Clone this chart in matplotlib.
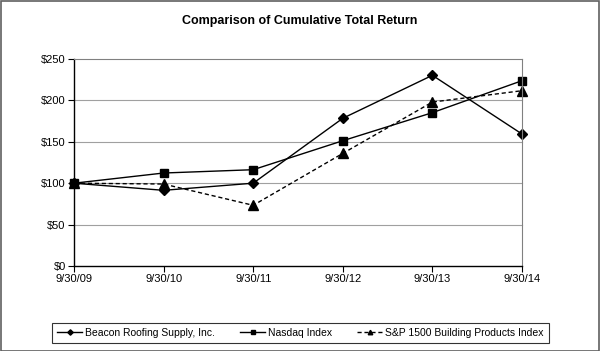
import matplotlib
matplotlib.use("Agg")
import matplotlib.pyplot as plt
from matplotlib.patches import Rectangle

plt.rcParams['font.family'] = ['Liberation Sans', 'DejaVu Sans']

dates = ["9/30/09", "9/30/10", "9/30/11", "9/30/12", "9/30/13", "9/30/14"]
beacon = [100, 91.4, 100, 178.4, 230.3, 159.4]
nasdaq = [100, 112.3, 116.3, 151.3, 185.2, 223.8]
sp1500 = [100, 99, 73.3, 136, 198, 211.7]
yticks = [0, 50, 100, 150, 200, 250]
ylabels = ["$0", "$50", "$100", "$150", "$200", "$250"]

fig = plt.figure(figsize=(6, 3.51), dpi=100)
ax = fig.add_axes([74/600, 1-266/351, (522-74)/600, (266-59)/351])
x = list(range(len(dates)))

ax.plot(x, beacon, color='black', lw=1, marker='D', ms=5.5, label='Beacon Roofing Supply, Inc.')
ax.plot(x, nasdaq, color='black', lw=1, marker='s', ms=5.8, label='Nasdaq Index')
ax.plot(x, sp1500, color='black', lw=1, ls=(0, (3, 2)), marker='^', ms=6.5, label='S&P 1500 Building Products Index')

ax.set_xlim(0, 5)
ax.set_ylim(0, 250)
ax.set_xticks(x)
ax.set_xticklabels(dates, fontsize=8)
ax.set_yticks(yticks)
ax.set_yticklabels(ylabels, fontsize=8)
for yv in yticks[1:-1]:
    ax.axhline(yv, color='#a0a0a0', lw=0.8, zorder=0)
for s in ['top', 'right']:
    ax.spines[s].set_color('#808080')
    ax.spines[s].set_linewidth(0.8)
for s in ['left', 'bottom']:
    ax.spines[s].set_color('black')
    ax.spines[s].set_linewidth(1)
ax.tick_params(direction='out', length=4, width=0.8, pad=2)
for m in ax.lines:
    m.set_clip_on(False)

fig.text(0.5, 1-21/351, "Comparison of Cumulative Total Return", ha='center', va='center',
         fontsize=9, fontweight='bold')

leg = fig.legend(loc='center', bbox_to_anchor=(300.5/600, 1-333/351), ncol=3, fontsize=7.5,
                 frameon=True, fancybox=False, edgecolor='black', markerscale=0.5,
                 handlelength=2.4, handletextpad=0.3, columnspacing=2.4, borderpad=0.5)
leg.get_frame().set_linewidth(0.8)

fig.patches.append(Rectangle((0.001, 0.001), 0.997, 0.996, transform=fig.transFigure,
                             fill=False, edgecolor='#606060', lw=1.2))

fig.savefig("out.png", dpi=100)
